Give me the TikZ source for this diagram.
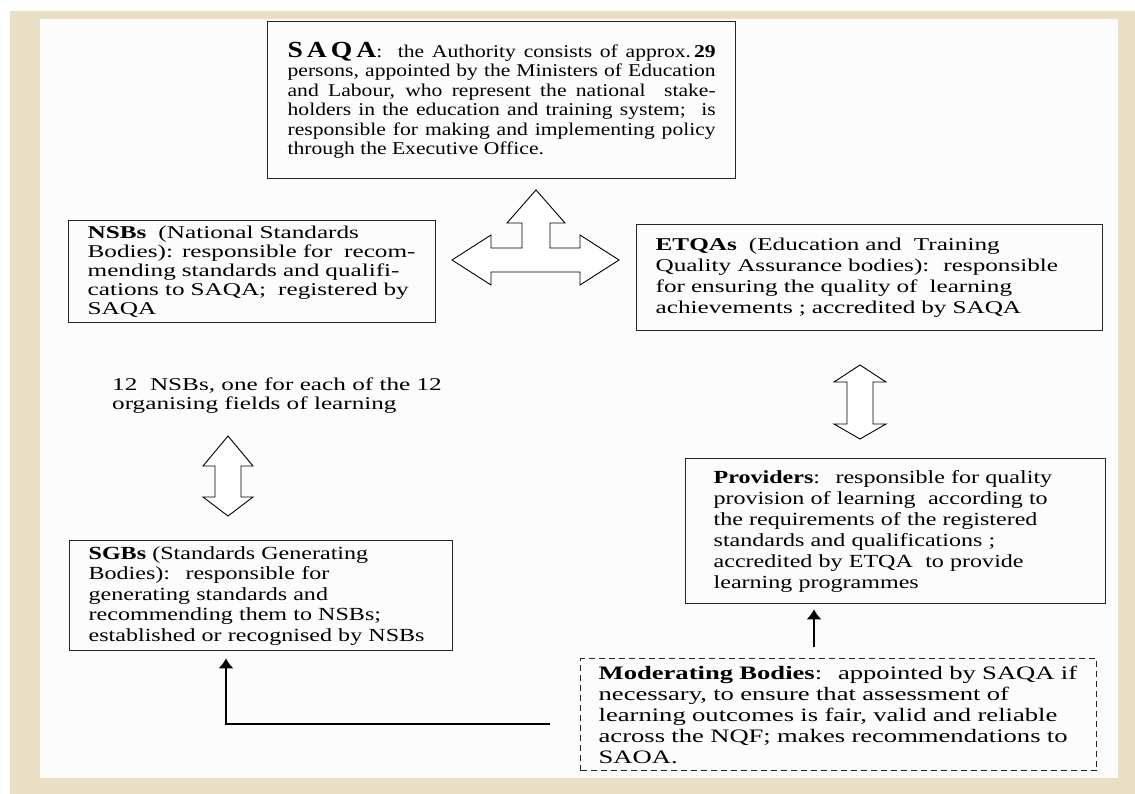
\documentclass[tikz,border=0pt]{standalone}
\usepackage{fontspec}
\setmainfont[FakeStretch=1.2]{Liberation Serif}
\newfontfamily\midserif[FakeStretch=1.3]{Liberation Serif}
\newfontfamily\wideserif[FakeStretch=1.4]{Liberation Serif}
\usetikzlibrary{arrows.meta}

\definecolor{paper}{RGB}{233,223,196}
\definecolor{sheet}{RGB}{252,252,252}

\tikzset{
  box/.style={draw=black!85, line width=1.3pt, anchor=north west, inner ysep=0pt,
    align=left, font=\fontsize{18}{19.5}\selectfont},
  dashbox/.style={box, dash pattern=on 6pt off 4pt},
  blockarrow/.style={draw, fill=white, line width=0.9pt, line join=miter},
  conn/.style={line width=1.6pt, -{Latex[length=10pt,width=15pt]}}
}

\begin{document}
\begin{tikzpicture}[x=1pt,y=-1pt]
\useasboundingbox (0,0) rectangle (1135,794);
\fill[paper] (10,11) rectangle (1135,794);
\fill[sheet] (40,19) rectangle (1118,778);

% the bodies
\node[box, align=justify, inner xsep=20pt, text width=428pt, minimum height=157pt] (saqa) at (267,21)
  {{\fontsize{23}{19.5}\selectfont\textbf{S\hspace{4pt}A\hspace{4pt}Q\hspace{4pt}A}}:~ the Authority consists of approx.\,\textbf{29}\linebreak
   persons, appointed by the Ministers of Education\linebreak
   and Labour, who represent the national~ stake-\linebreak
   holders in the education and training system;~ is\linebreak
   responsible for making and implementing policy\linebreak
   through the Executive Office.};
\node[box, inner xsep=19pt, text width=329pt, minimum height=102pt,
      font=\wideserif\fontsize{18}{19}\selectfont] (nsb) at (68,220)
  {\textbf{NSBs}~ (National Standards\\
   Bodies): responsible for~ recom-\\
   mending standards and qualifi-\\
   cations to SAQA;~ registered by\\
   SAQA};
\node[box, inner xsep=19pt, text width=428pt, minimum height=106pt,
      font=\wideserif\fontsize{18}{20.7}\selectfont] (etqa) at (636,224)
  {\textbf{ETQAs}~ (Education and~ Training\\
   Quality Assurance bodies):\hspace{14pt}responsible\\
   for ensuring the quality of~ learning\\
   achievements ; accredited by SAQA};
\node[box, inner xsep=28pt, text width=364pt, minimum height=145pt,
      font=\midserif\fontsize{18.5}{21}\selectfont] (prov) at (685,458)
  {\textbf{Providers}:~ responsible for quality\\
   provision of learning~ according to\\
   the requirements of the registered\\
   standards and qualifications ;\\
   accredited by ETQA~ to provide\\
   learning programmes};
\node[box, inner xsep=19pt, text width=345pt, minimum height=110pt,
      font=\midserif\fontsize{18.5}{20.5}\selectfont] (sgb) at (69,540)
  {\textbf{SGBs} (Standards Generating\\
   Bodies):~ responsible for\\
   generating standards and\\
   recommending them to NSBs;\\
   established or recognised by NSBs};
\node[dashbox, inner xsep=18pt, text width=480pt, minimum height=112pt,
      font=\wideserif\fontsize{19}{21}\selectfont] (mod) at (580,658)
  {\textbf{Moderating Bodies}:~ appointed by SAQA if\\
   necessary, to ensure that assessment of\\
   learning outcomes is fair, valid and reliable\\
   across the NQF; makes recommendations to\\
   SAOA.};
\node[anchor=north west, inner sep=0pt, align=left,
      font=\wideserif\fontsize{18}{19}\selectfont] (fields) at (112,378)
  {12~ NSBs, one for each of the 12\\
   organising fields of learning};

% block arrows
\draw[blockarrow] (536,190) -- (565,223) -- (550,223) -- (550,248) -- (580,248) -- (580,235)
  -- (619,260) -- (580,285) -- (580,272) -- (491,272) -- (491,285) -- (452,260) -- (491,235)
  -- (491,248) -- (522,248) -- (522,223) -- (507,223) -- cycle;
\draw[blockarrow] (860,365) -- (886,382) -- (873,382) -- (873,424) -- (886,424) -- (860,439)
  -- (834,424) -- (847,424) -- (847,382) -- (834,382) -- cycle;
\draw[blockarrow] (228,436) -- (253,466) -- (241,466) -- (241,497) -- (253,497) -- (228,516)
  -- (203,497) -- (215,497) -- (215,466) -- (203,466) -- cycle;

% links from the moderating bodies
\coordinate (p1) at (814,0);
\coordinate (s1) at (226,0);
\coordinate (m1) at (550,724);
\draw[conn, shorten <=11pt, shorten >=5pt] (mod.north -| p1) -- (prov.south -| p1);
\draw[conn, shorten >=7pt] (m1) -| (sgb.south -| s1);
\end{tikzpicture}
\end{document}
